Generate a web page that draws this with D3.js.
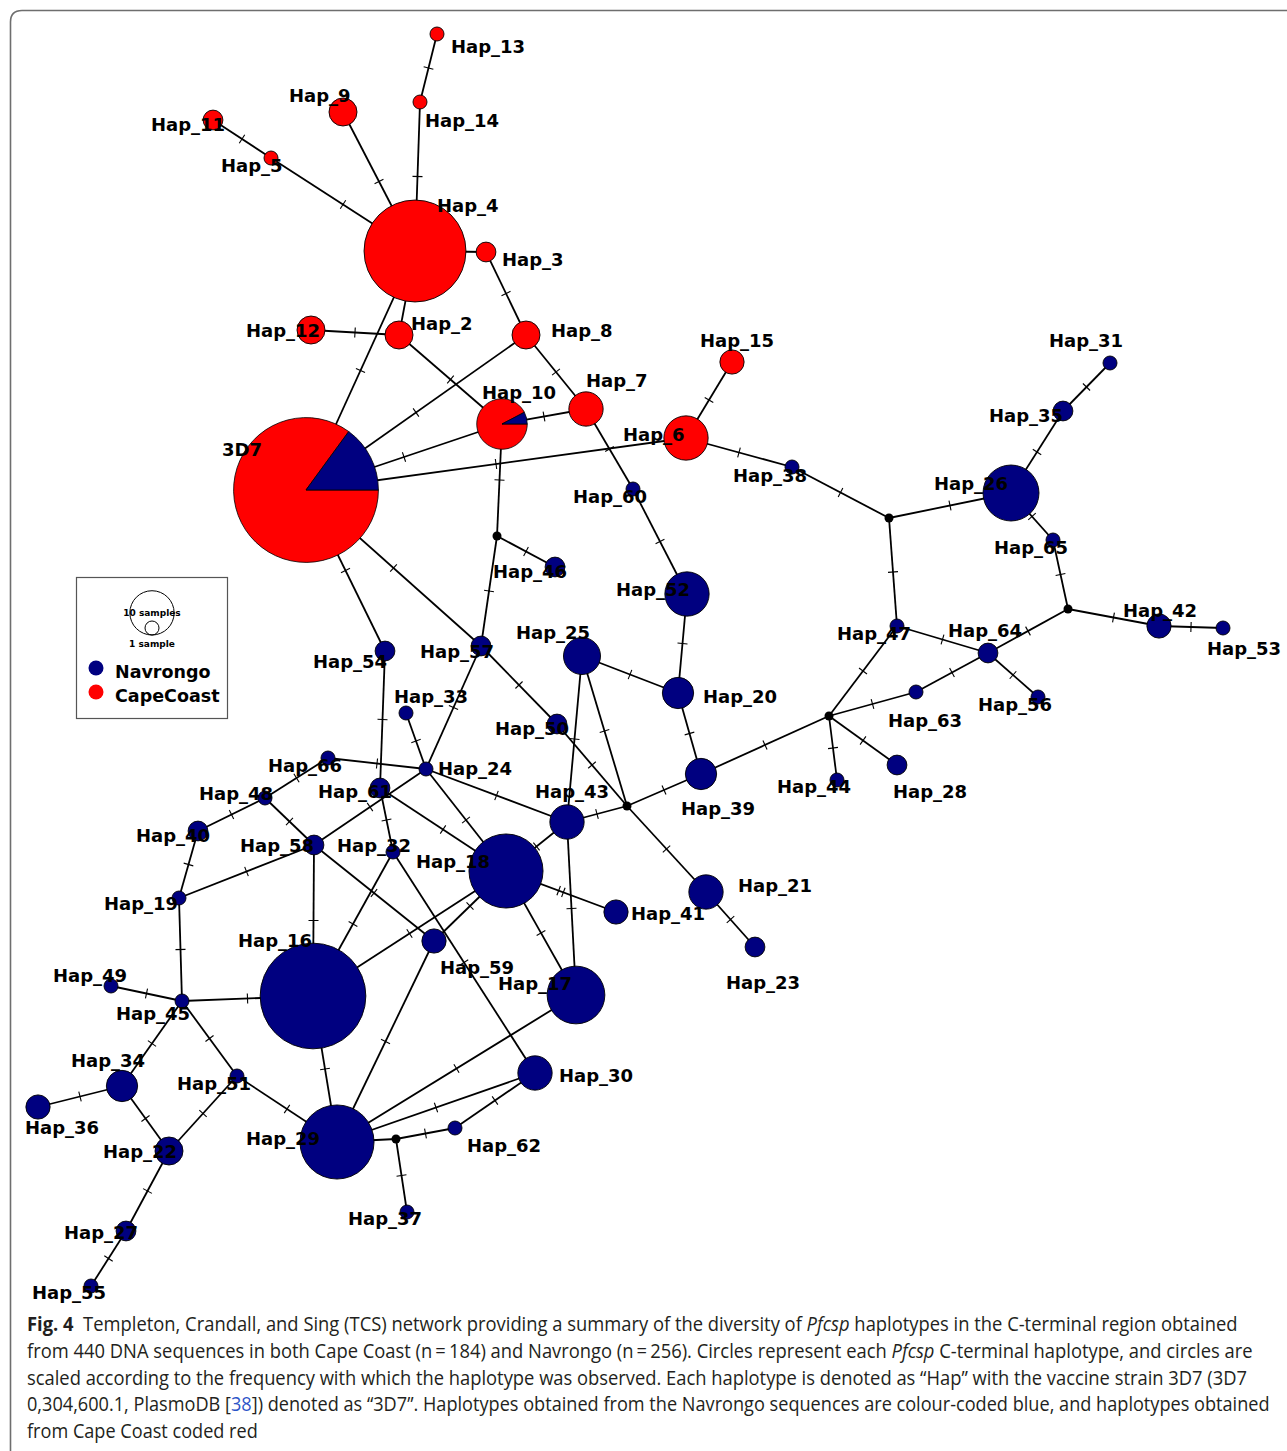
<!DOCTYPE html>
<html>
<head>
<meta charset="utf-8">
<script src="https://cdn.jsdelivr.net/npm/d3@7"></script>
<style>
  body { margin: 0; background: #fff; }
  svg { display: block; }
  text { white-space: pre; }
</style>
</head>
<body>
<svg id="fig" width="1287" height="1451"></svg>
<script>
// ---- Haplotypes and the number of sequences observed in each population ----
const haplotypes = ["3D7","Hap_2","Hap_3","Hap_4","Hap_5","Hap_6","Hap_7","Hap_8","Hap_9","Hap_10",
  "Hap_11","Hap_12","Hap_13","Hap_14","Hap_15","Hap_16","Hap_17","Hap_18","Hap_19","Hap_20",
  "Hap_21","Hap_22","Hap_23","Hap_24","Hap_25","Hap_26","Hap_27","Hap_28","Hap_29","Hap_30",
  "Hap_31","Hap_32","Hap_33","Hap_34","Hap_35","Hap_36","Hap_37","Hap_38","Hap_39","Hap_40",
  "Hap_41","Hap_42","Hap_43","Hap_44","Hap_45","Hap_46","Hap_47","Hap_48","Hap_49","Hap_50",
  "Hap_51","Hap_52","Hap_53","Hap_54","Hap_55","Hap_56","Hap_57","Hap_58","Hap_59","Hap_60",
  "Hap_61","Hap_62","Hap_63","Hap_64","Hap_65","Hap_66"];

const navrongo = [16,0,0,0,0,0,0,0,0,1,
  0,0,0,0,0,57,17,28,1,5,
  6,4,2,1,7,16,2,2,28,6,
  1,1,1,5,2,3,1,1,5,2,
  3,3,6,1,1,2,1,1,1,2,
  1,10,1,2,1,1,2,2,3,1,
  2,1,1,2,1,1];

const capeCoast = [91,4,2,53,1,10,6,4,4,12,
  2,4,1,1,3,0,0,0,0,0,
  0,0,0,0,0,0,0,0,0,0,
  0,0,0,0,0,0,0,0,0,0,
  0,0,0,0,0,0,0,0,0,0,
  0,0,0,0,0,0,0,0,0,0,
  0,0,0,0,0,0];

// Inferred (unsampled) intermediate haplotypes
const missingVertices = ["mv1","mv2","mv3","mv4","mv5","mv6"];

// ---- Network layout (layout units) ----
const layout = {
  "3D7":[30.6,49.0], "Hap_2":[39.9,33.5], "Hap_3":[48.6,25.2], "Hap_4":[41.5,25.1],
  "Hap_5":[27.1,15.8], "Hap_6":[68.6,43.8], "Hap_7":[58.6,40.9], "Hap_8":[52.6,33.5],
  "Hap_9":[34.3,11.2], "Hap_10":[50.2,42.4], "Hap_11":[21.3,12.0], "Hap_12":[31.1,33.0],
  "Hap_13":[43.7,3.4], "Hap_14":[42.0,10.2], "Hap_15":[73.2,36.2], "Hap_16":[31.3,99.6],
  "Hap_17":[57.6,99.5], "Hap_18":[50.6,87.1], "Hap_19":[17.9,89.8], "Hap_20":[67.8,69.3],
  "Hap_21":[70.6,89.2], "Hap_22":[16.9,115.1], "Hap_23":[75.5,94.7], "Hap_24":[42.6,76.9],
  "Hap_25":[58.2,65.6], "Hap_26":[101.1,49.3], "Hap_27":[12.6,123.1], "Hap_28":[89.7,76.5],
  "Hap_29":[33.7,114.2], "Hap_30":[53.5,107.3], "Hap_31":[111.0,36.3], "Hap_32":[39.3,85.2],
  "Hap_33":[40.6,71.3], "Hap_34":[12.2,108.6], "Hap_35":[106.3,41.1], "Hap_36":[3.8,110.7],
  "Hap_37":[40.7,121.2], "Hap_38":[79.2,46.7], "Hap_39":[70.1,77.4], "Hap_40":[19.8,83.1],
  "Hap_41":[61.6,91.2], "Hap_42":[115.9,62.6], "Hap_43":[56.7,82.2], "Hap_44":[83.7,78.0],
  "Hap_45":[18.2,100.1], "Hap_46":[55.5,56.7], "Hap_47":[89.7,62.6], "Hap_48":[26.5,79.8],
  "Hap_49":[11.1,98.6], "Hap_50":[55.7,72.4], "Hap_51":[23.7,107.6], "Hap_52":[68.7,59.4],
  "Hap_53":[122.3,62.8], "Hap_54":[38.5,65.1], "Hap_55":[9.1,128.6], "Hap_56":[103.8,69.7],
  "Hap_57":[48.1,64.6], "Hap_58":[31.4,84.5], "Hap_59":[43.4,94.1], "Hap_60":[63.3,48.9],
  "Hap_61":[38.0,78.8], "Hap_62":[45.5,112.8], "Hap_63":[91.6,69.2], "Hap_64":[98.8,65.3],
  "Hap_65":[105.3,54.0], "Hap_66":[32.8,75.8],
  "mv1":[88.9,51.8], "mv2":[106.8,60.9], "mv3":[82.9,71.6], "mv4":[62.7,80.6],
  "mv5":[39.6,113.9], "mv6":[49.7,53.6]
};

// Label placement relative to each node (px)
const labelOffset = {
  "3D7":[-84,-34], "Hap_2":[12,-5], "Hap_3":[16,14], "Hap_4":[22,-39], "Hap_5":[-50,14],
  "Hap_6":[-63,3], "Hap_7":[0,-22], "Hap_8":[25,2], "Hap_9":[-54,-10], "Hap_10":[-20,-25],
  "Hap_11":[-62,11], "Hap_12":[-65,7], "Hap_13":[14,19], "Hap_14":[5,25], "Hap_15":[-32,-15],
  "Hap_16":[-75,-49], "Hap_17":[-78,-5], "Hap_18":[-90,-3], "Hap_19":[-75,12], "Hap_20":[25,10],
  "Hap_21":[32,0], "Hap_22":[-66,7], "Hap_23":[-29,42], "Hap_24":[12,6], "Hap_25":[-66,-17],
  "Hap_26":[-77,-3], "Hap_27":[-62,8], "Hap_28":[-4,33], "Hap_29":[-91,3], "Hap_30":[24,9],
  "Hap_31":[-61,-16], "Hap_32":[-56,0], "Hap_33":[-12,-10], "Hap_34":[-51,-19], "Hap_35":[-74,11],
  "Hap_36":[-13,27], "Hap_37":[-59,13], "Hap_38":[-59,15], "Hap_39":[-20,41], "Hap_40":[-62,11],
  "Hap_41":[15,8], "Hap_42":[-36,-9], "Hap_43":[-32,-24], "Hap_44":[-60,13], "Hap_45":[-66,19],
  "Hap_46":[-62,11], "Hap_47":[-60,14], "Hap_48":[-66,2], "Hap_49":[-58,-4], "Hap_50":[-62,11],
  "Hap_51":[-60,14], "Hap_52":[-71,2], "Hap_53":[-16,27], "Hap_54":[-72,17], "Hap_55":[-59,13],
  "Hap_56":[-60,14], "Hap_57":[-61,12], "Hap_58":[-74,7], "Hap_59":[6,33], "Hap_60":[-60,14],
  "Hap_61":[-62,10], "Hap_62":[12,24], "Hap_63":[-28,35], "Hap_64":[-40,-16], "Hap_65":[-59,14],
  "Hap_66":[-60,14]
};

// ---- Links: [from, to, number of mutational steps] ----
const links = [
  ["Hap_13","Hap_14",1], ["Hap_14","Hap_4",1], ["Hap_9","Hap_4",1], ["Hap_11","Hap_5",1],
  ["Hap_5","Hap_4",1], ["Hap_4","Hap_3",1], ["Hap_3","Hap_8",1], ["Hap_4","Hap_2",1],
  ["Hap_4","3D7",1], ["Hap_12","Hap_2",1], ["Hap_2","Hap_10",1], ["Hap_8","3D7",1],
  ["Hap_8","Hap_7",1], ["Hap_10","3D7",1], ["Hap_10","Hap_7",1], ["3D7","Hap_6",1],
  ["Hap_7","Hap_60",1], ["Hap_60","Hap_52",1], ["Hap_15","Hap_6",1], ["Hap_6","Hap_38",1],
  ["Hap_38","mv1",1], ["mv1","Hap_26",1], ["mv1","Hap_47",1], ["Hap_26","Hap_35",1],
  ["Hap_35","Hap_31",1], ["Hap_26","Hap_65",1], ["Hap_65","mv2",1], ["mv2","Hap_42",1],
  ["Hap_42","Hap_53",1], ["mv2","Hap_64",1], ["Hap_47","Hap_64",1], ["Hap_64","Hap_56",1],
  ["Hap_64","Hap_63",1], ["Hap_63","mv3",1], ["Hap_47","mv3",1], ["mv3","Hap_28",1],
  ["mv3","Hap_44",1], ["mv3","Hap_39",1], ["Hap_39","Hap_20",1], ["Hap_20","Hap_52",1],
  ["Hap_20","Hap_25",1], ["Hap_39","mv4",1], ["Hap_25","Hap_43",1], ["Hap_25","mv4",1],
  ["3D7","Hap_57",1], ["Hap_57","Hap_50",1], ["Hap_50","mv4",1], ["mv4","Hap_21",1],
  ["Hap_21","Hap_23",1], ["mv4","Hap_43",1], ["Hap_43","Hap_18",1], ["Hap_43","Hap_17",1],
  ["Hap_24","Hap_43",1], ["Hap_24","Hap_18",1], ["Hap_61","Hap_18",1], ["Hap_18","Hap_41",2],
  ["Hap_18","Hap_17",1], ["Hap_18","Hap_16",1], ["Hap_18","Hap_59",1], ["Hap_59","Hap_29",1],
  ["Hap_17","Hap_29",1], ["Hap_30","Hap_29",1], ["Hap_29","mv5",1], ["mv5","Hap_62",1],
  ["mv5","Hap_37",1], ["Hap_62","Hap_30",1], ["Hap_32","Hap_30",1], ["Hap_16","Hap_29",1],
  ["Hap_29","Hap_51",1], ["Hap_51","Hap_45",1], ["Hap_51","Hap_22",1], ["Hap_45","Hap_34",1],
  ["Hap_34","Hap_36",1], ["Hap_34","Hap_22",1], ["Hap_22","Hap_27",1], ["Hap_27","Hap_55",1],
  ["Hap_45","Hap_49",1], ["Hap_45","Hap_16",1], ["Hap_45","Hap_19",1], ["Hap_19","Hap_40",1],
  ["Hap_19","Hap_58",1], ["Hap_40","Hap_48",1], ["Hap_48","Hap_66",1], ["Hap_48","Hap_58",1],
  ["Hap_66","Hap_24",1], ["Hap_54","Hap_61",1], ["Hap_61","Hap_32",1], ["Hap_58","Hap_24",1],
  ["Hap_58","Hap_16",1], ["Hap_58","Hap_59",1], ["Hap_32","Hap_16",1], ["Hap_24","Hap_33",1],
  ["Hap_24","Hap_57",1], ["Hap_57","mv6",1], ["mv6","Hap_10",1], ["mv6","Hap_46",1],
  ["Hap_54","3D7",1]
];

const populations = ["Navrongo", "CapeCoast"];
const popColor = d3.scaleOrdinal().domain(populations).range(["#000080", "#ff0000"]);
const legendSizes = [10, 1];

const captionLines = [
  [["b","Fig. 4"],["r","  Templeton, Crandall, and Sing (TCS) network providing a summary of the diversity of "],["i","Pfcsp"],["r"," haplotypes in the C-terminal region obtained"]],
  [["r","from 440 DNA sequences in both Cape Coast (n\u2009=\u2009184) and Navrongo (n\u2009=\u2009256). Circles represent each "],["i","Pfcsp"],["r"," C-terminal haplotype, and circles are"]],
  [["r","scaled according to the frequency with which the haplotype was observed. Each haplotype is denoted as \u201cHap\u201d with the vaccine strain 3D7 (3D7"]],
  [["r","0,304,600.1, PlasmoDB ["],["l","38"],["r","]) denoted as \u201c3D7\u201d. Haplotypes obtained from the Navrongo sequences are colour-coded blue, and haplotypes obtained"]],
  [["r","from Cape Coast coded red"]]
];
const captionWidths = [1211, 1226, 1221, 1243, 231];

// ---- Scales ----
const W = 1287, H = 1451;
const sx = d3.scaleLinear().domain([0, 128.7]).range([0, W]);
const sy = d3.scaleLinear().domain([0, 145.1]).range([0, H]);
const radius = d3.scaleSqrt().domain([0, 1]).range([0, 7]);

const svg = d3.select("#fig");

// Frame around the figure
svg.append("path")
  .attr("d", `M ${W + 20} 10.5 H 22 Q 10.5 10.5 10.5 22 V ${H + 20}`)
  .attr("fill", "none").attr("stroke", "#6e6e6e").attr("stroke-width", 1.6);

// Node table
const nodes = haplotypes.map((name, i) => ({
  name, nav: navrongo[i], cape: capeCoast[i], n: navrongo[i] + capeCoast[i],
  x: sx(layout[name][0]), y: sy(layout[name][1]), mv: false
})).concat(missingVertices.map(name => ({
  name, nav: 0, cape: 0, n: 0, x: sx(layout[name][0]), y: sy(layout[name][1]), mv: true
})));
const byName = new Map(nodes.map(d => [d.name, d]));

// Links
const gLinks = svg.append("g");
gLinks.selectAll("line").data(links).join("line")
  .attr("x1", d => byName.get(d[0]).x).attr("y1", d => byName.get(d[0]).y)
  .attr("x2", d => byName.get(d[1]).x).attr("y2", d => byName.get(d[1]).y)
  .attr("stroke", "#000").attr("stroke-width", 1.8);

// Mutation hatch marks
const ticks = [];
links.forEach(([a, b, k]) => {
  const A = byName.get(a), B = byName.get(b);
  const dx = B.x - A.x, dy = B.y - A.y, len = Math.hypot(dx, dy);
  const ux = dx / len, uy = dy / len, nx = -uy, ny = ux;
  const mx = (A.x + B.x) / 2, my = (A.y + B.y) / 2;
  for (let i = 0; i < k; i++) {
    const o = (i - (k - 1) / 2) * 5;
    const cx = mx + ux * o, cy = my + uy * o;
    ticks.push([cx - nx * 5, cy - ny * 5, cx + nx * 5, cy + ny * 5]);
  }
});
gLinks.selectAll("line.tick").data(ticks).join("line").attr("class", "tick")
  .attr("x1", d => d[0]).attr("y1", d => d[1]).attr("x2", d => d[2]).attr("y2", d => d[3])
  .attr("stroke", "#000").attr("stroke-width", 1.1);

// Nodes
const gNodes = svg.append("g");
const pie = d3.pie().sort(null).startAngle(Math.PI / 2).endAngle(Math.PI / 2 + 2 * Math.PI);
nodes.forEach(d => {
  const g = gNodes.append("g").attr("transform", `translate(${d.x},${d.y})`);
  if (d.mv) {
    g.append("circle").attr("r", 4.5).attr("fill", "#000");
    return;
  }
  const r = radius(d.n);
  if (d.nav > 0 && d.cape > 0) {
    const arc = d3.arc().innerRadius(0).outerRadius(r);
    g.selectAll("path").data(pie([d.cape, d.nav])).join("path")
      .attr("d", arc)
      .attr("fill", (p, i) => popColor(i === 0 ? "CapeCoast" : "Navrongo"))
      .attr("stroke", "#000").attr("stroke-width", 0.8);
  } else {
    g.append("circle").attr("r", r)
      .attr("fill", popColor(d.nav > 0 ? "Navrongo" : "CapeCoast"))
      .attr("stroke", "#000").attr("stroke-width", 0.9);
  }
});

// Labels
svg.append("g").selectAll("text").data(nodes.filter(d => !d.mv)).join("text")
  .attr("x", d => d.x + labelOffset[d.name][0])
  .attr("y", d => d.y + labelOffset[d.name][1])
  .attr("font-family", "'DejaVu Sans', Verdana, sans-serif")
  .attr("font-weight", "bold").attr("font-size", 18).attr("fill", "#000")
  .text(d => d.name);

// Legend
const lg = svg.append("g");
lg.append("rect").attr("x", 76.5).attr("y", 577.5).attr("width", 151).attr("height", 141)
  .attr("fill", "#fff").attr("stroke", "#555").attr("stroke-width", 1.2);
const base = 635;
legendSizes.forEach(s => {
  lg.append("circle").attr("cx", 152).attr("cy", base - radius(s)).attr("r", radius(s))
    .attr("fill", "none").attr("stroke", "#000").attr("stroke-width", 1);
});
lg.append("text").attr("x", 152).attr("y", 616).attr("text-anchor", "middle")
  .attr("font-family", "'DejaVu Sans', sans-serif").attr("font-weight", "bold").attr("font-size", 9)
  .text(`${legendSizes[0]} samples`);
lg.append("text").attr("x", 152).attr("y", 647).attr("text-anchor", "middle")
  .attr("font-family", "'DejaVu Sans', sans-serif").attr("font-weight", "bold").attr("font-size", 9)
  .text(`${legendSizes[1]} sample`);
populations.forEach((p, i) => {
  lg.append("circle").attr("cx", 96).attr("cy", 668 + i * 24).attr("r", 7.5).attr("fill", popColor(p));
  lg.append("text").attr("x", 115).attr("y", 678 + i * 24)
    .attr("font-family", "'DejaVu Sans', sans-serif").attr("font-weight", "bold").attr("font-size", 17.5)
    .text(p);
});

// Caption: each line is set in a condensed form by scaling it horizontally to its measure
const cap = svg.append("g").attr("font-family", "'Open Sans', 'Noto Sans', sans-serif")
  .attr("font-size", 19.5).attr("fill", "#231f20");
captionLines.forEach((parts, i) => {
  const t = cap.append("text").attr("x", 0).attr("y", 0);
  parts.forEach(([kind, str]) => {
    const s = t.append("tspan").text(str);
    if (kind === "b") s.attr("font-weight", "bold");
    if (kind === "i") s.attr("font-style", "italic");
    if (kind === "l") s.attr("fill", "#2c54c8");
  });
  const natural = t.node().getComputedTextLength();
  const k = captionWidths[i] / natural;
  t.attr("transform", `translate(27,${1331 + i * 26.8}) scale(${k},1)`);
});
</script>
</body>
</html>
